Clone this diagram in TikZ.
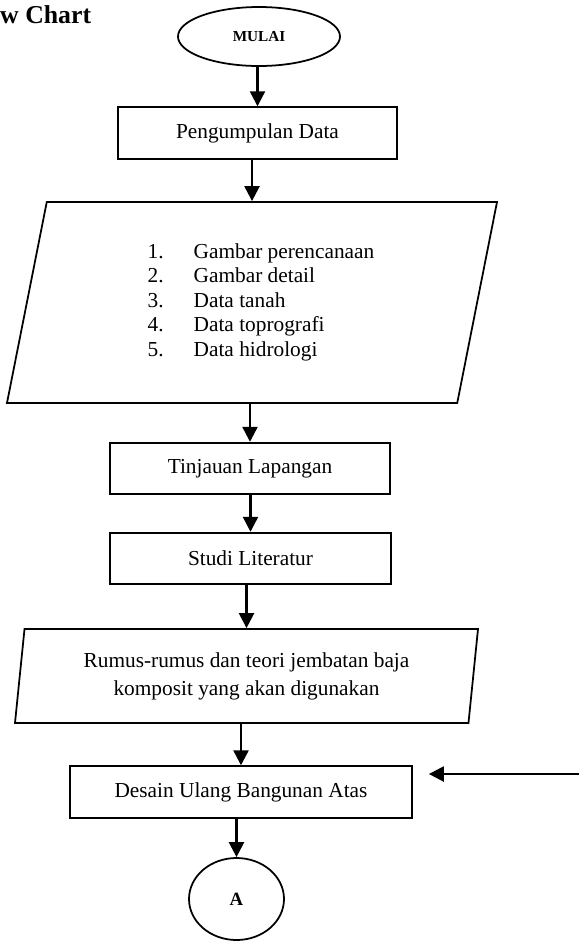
\documentclass[tikz,border=0pt]{standalone}
\usepackage{fontspec}
\setmainfont{Liberation Serif}
\usetikzlibrary{arrows.meta,shapes.geometric}
\tikzset{
  terminal/.style={ellipse,draw,line width=1.5pt,inner sep=0pt,
    minimum width=4.86cm,minimum height=1.77cm,
    font=\fontsize{13}{15}\selectfont\bfseries},
  process/.style={rectangle,draw,line width=1.5pt,inner sep=0pt,
    minimum height=1.55cm,font=\fontsize{18.2}{21}\selectfont},
  data/.style={trapezium,trapezium stretches body,draw,line width=1.5pt,
    inner sep=0pt,align=center,font=\fontsize{18.2}{21}\selectfont},
  connector/.style={ellipse,draw,line width=1.5pt,inner sep=0pt,
    minimum width=2.85cm,minimum height=2.46cm,
    font=\fontsize{16}{18}\selectfont\bfseries},
  arrow/.style={-{Triangle[length=0.45cm,width=0.45cm]},line width=2pt}
}

\begin{document}
\begin{tikzpicture}[x=0.03cm,y=-0.03cm]
  \useasboundingbox (0,0) rectangle (579,942);
  \node[anchor=base west,inner sep=0pt,font=\fontsize{22}{24}\selectfont\bfseries]
    (title) at (0,23) {w Chart};
  % alur utama
  \node[terminal] (mulai) at (259,36.5) {MULAI};
  \node[process,minimum width=8.37cm] (kumpul) at (257.5,133) {Pengumpulan Data};
  \node[data,trapezium left angle=72,trapezium right angle=108,
    minimum width=14.7cm,minimum height=6.03cm] (datalist) at (252,302.5)
    {\fontsize{18.2}{20.9}\selectfont
     \begin{tabular}{@{\hspace{0.54cm}}l@{\hspace{0.9cm}}l@{}}
       1. & Gambar perencanaan\\
       2. & Gambar detail\\
       3. & Data tanah\\
       4. & Data toprografi\\
       5. & Data hidrologi
     \end{tabular}};
  \node[process,minimum width=8.4cm] (tinjau) at (250,468.5) {Tinjauan Lapangan};
  \node[process,minimum width=8.43cm] (studi) at (250.5,558.5) {Studi Literatur};
  \node[data,trapezium left angle=78.6,trapezium right angle=101.4,
    minimum width=13.89cm,minimum height=2.82cm,
    font=\fontsize{18.2}{23.8}\selectfont] (rumus) at (246.5,676)
    {Rumus-rumus dan teori jembatan baja\\komposit yang akan digunakan};
  \node[process,minimum width=10.26cm] (desain) at (241,792) {Desain Ulang Bangunan Atas};
  \node[connector] (konA) at (236.5,899) {A};
  \coordinate (balik) at (579,774);

  \draw[arrow] (kumpul.north |- mulai.south) -- (kumpul.north);
  \draw[arrow] (datalist.north |- kumpul.south) -- (datalist.north);
  \draw[arrow] (tinjau.north |- datalist.south) -- (tinjau.north);
  \draw[arrow] (studi.north |- tinjau.south) -- (studi.north);
  \draw[arrow] (rumus.north |- studi.south) -- (rumus.north);
  \draw[arrow] (desain.north |- rumus.south) -- (desain.north);
  \draw[arrow] (konA.north |- desain.south) -- (konA.north);
  \draw[arrow,shorten >=0.48cm] (balik) -- (desain.east |- balik);
\end{tikzpicture}
\end{document}
